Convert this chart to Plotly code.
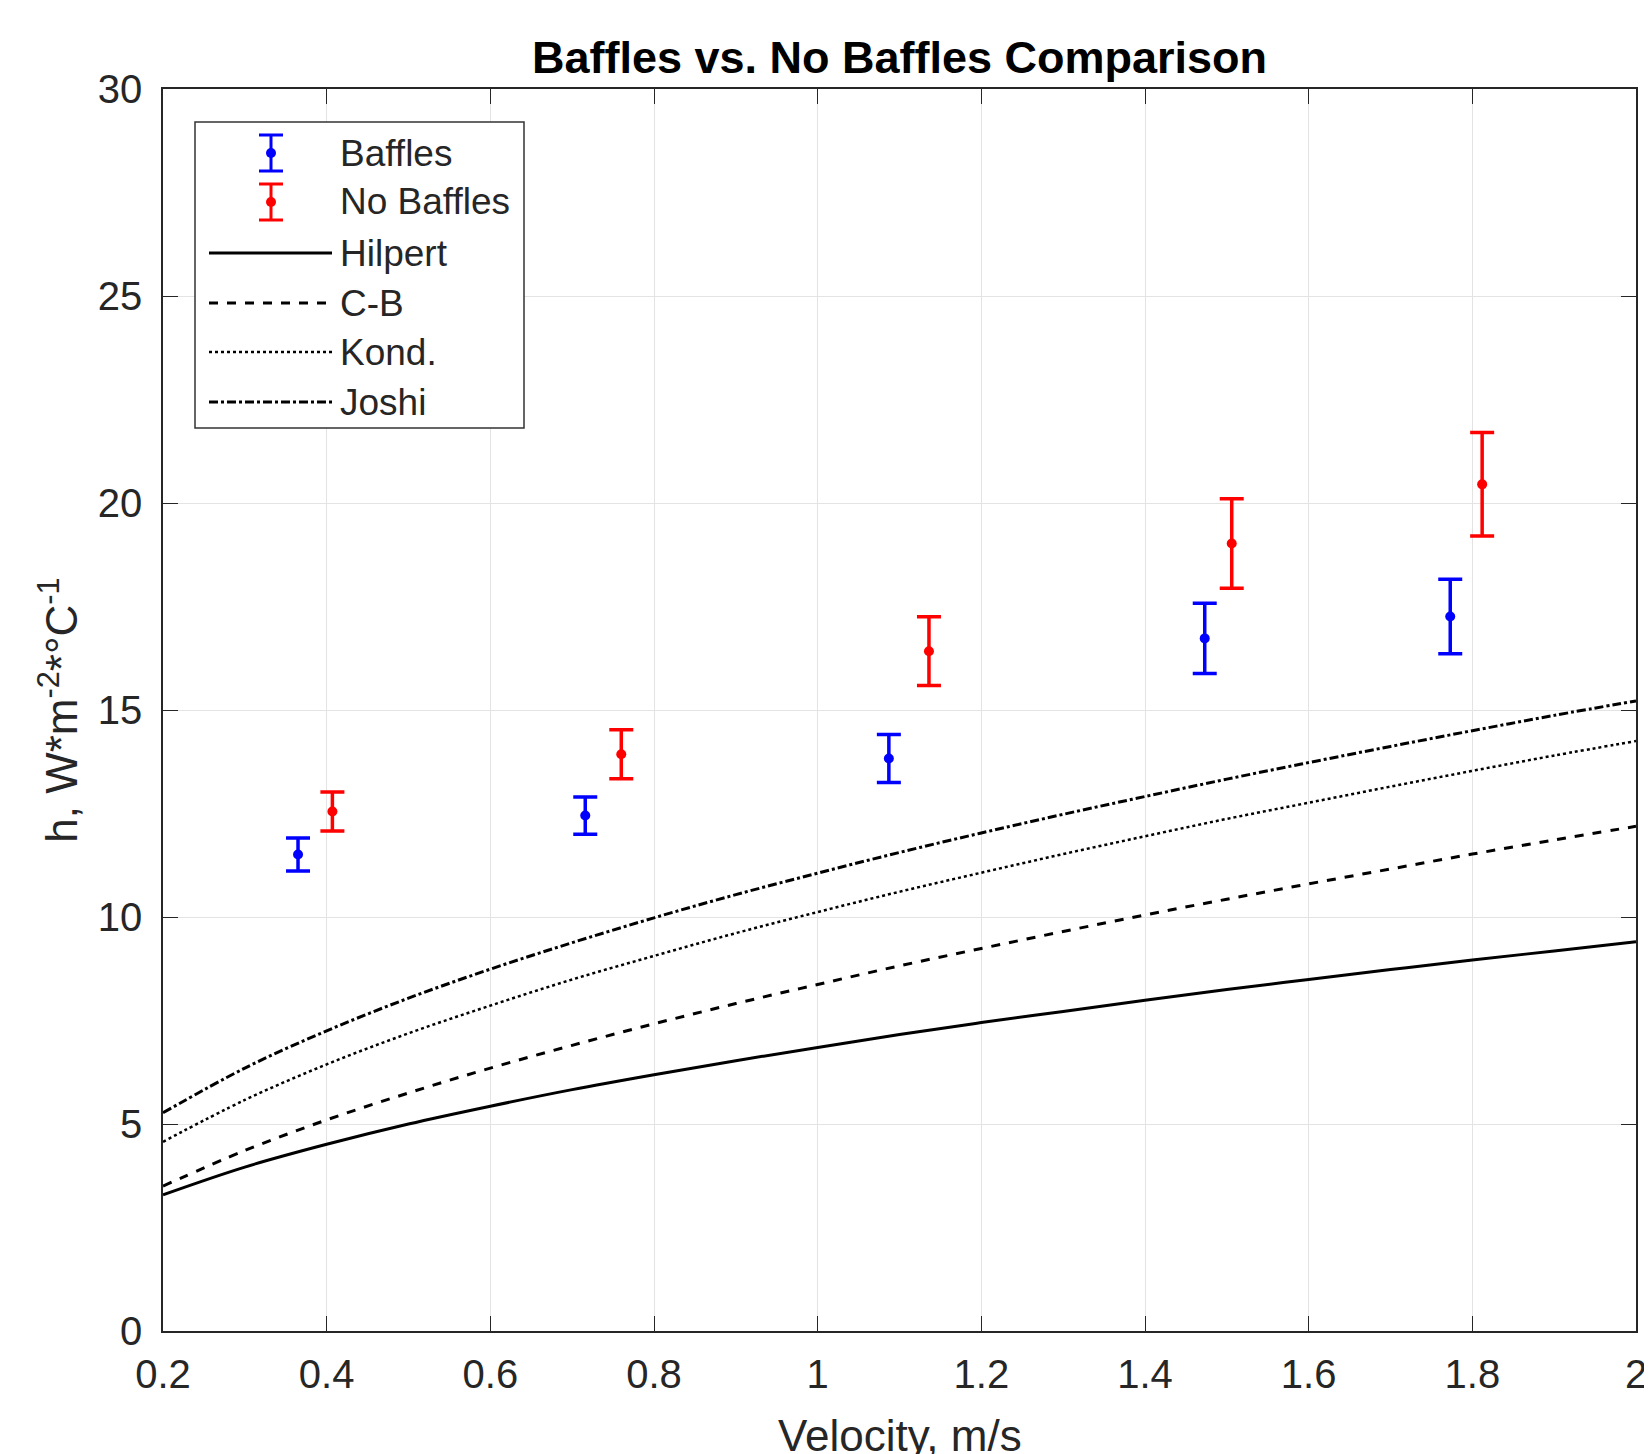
import plotly.graph_objects as go

# ---- data ----
baffles_v = [0.365, 0.716, 1.087, 1.473, 1.773]
baffles_h = [11.51, 12.45, 13.83, 16.73, 17.26]
baffles_err = [0.40, 0.45, 0.58, 0.85, 0.90]

nobaffles_v = [0.407, 0.760, 1.136, 1.506, 1.812]
nobaffles_h = [12.55, 13.93, 16.42, 19.02, 20.45]
nobaffles_err = [0.47, 0.59, 0.83, 1.08, 1.25]

curve_v = [0.2, 0.3, 0.4, 0.5, 0.6, 0.7, 0.8, 0.9, 1.0, 1.1,
           1.2, 1.3, 1.4, 1.5, 1.6, 1.7, 1.8, 1.9, 2.0]
hilpert = [3.29, 3.96, 4.51, 5.00, 5.43, 5.83, 6.19, 6.53, 6.85, 7.16,
           7.45, 7.72, 7.99, 8.25, 8.49, 8.73, 8.96, 9.18, 9.40]
cb = [3.50, 4.36, 5.10, 5.75, 6.35, 6.90, 7.42, 7.91, 8.37, 8.82,
      9.24, 9.65, 10.05, 10.43, 10.80, 11.16, 11.52, 11.86, 12.19]
kond = [4.57, 5.58, 6.44, 7.19, 7.86, 8.49, 9.06, 9.61, 10.12, 10.61,
        11.07, 11.52, 11.95, 12.37, 12.76, 13.15, 13.53, 13.90, 14.25]
joshi = [5.27, 6.35, 7.25, 8.04, 8.74, 9.38, 9.98, 10.54, 11.06, 11.56,
         12.03, 12.48, 12.91, 13.33, 13.73, 14.12, 14.50, 14.87, 15.22]

point_series = [("Baffles", "#0000FF"), ("No Baffles", "#FF0000")]
line_series = [("Hilpert", "solid", 3), ("C-B", "dash", 3),
               ("Kond.", "dot", 2.5), ("Joshi", "dashdot", 3)]
x_title = "Velocity, m/s"

FONT = "Liberation Sans, Arial, Helvetica, sans-serif"
AX = "#262626"
OFF = 8                      # default body margin of the html page
W, H = 1652 - OFF, 1454 - OFF
# plot area in page pixels: x 163..1636, y 89..1331
L, T = 163 - OFF, 89 - OFF
R = W - (1636 - OFF)
B = H - (1331 - OFF)
PW, PH = W - L - R, H - T - B


def px(x):   # page pixel x -> paper
    return (x - OFF - L) / PW


def py(y):   # page pixel y -> paper
    return (H - B - (y - OFF)) / PH


fig = go.Figure()

for (name, col), v, h, e in zip(point_series, [baffles_v, nobaffles_v],
                                [baffles_h, nobaffles_h],
                                [baffles_err, nobaffles_err]):
    fig.add_trace(go.Scatter(
        x=v, y=h, mode="markers", name=name, showlegend=False,
        marker=dict(color=col, size=10),
        error_y=dict(type="data", array=e, visible=True,
                     color=col, thickness=3.5, width=12)))

for (name, dash, w), ys in zip(line_series, [hilpert, cb, kond, joshi]):
    fig.add_trace(go.Scatter(
        x=curve_v, y=ys, mode="lines", name=name, showlegend=False,
        line=dict(color="black", width=w, dash=dash, shape="spline")))

axis_common = dict(
    showgrid=True, gridcolor="#e3e3e3", gridwidth=1,
    showline=True, linecolor=AX, linewidth=1.5, mirror="ticks",
    ticks="inside", ticklen=15, tickcolor=AX, tickwidth=1.2,
    tickfont=dict(family=FONT, size=40, color=AX),
    zeroline=False, automargin=False,
)

fig.update_xaxes(range=[0.2, 2], dtick=0.2, tick0=0.2,
                 ticklabelstandoff=7, **axis_common)
fig.update_yaxes(range=[0, 30], dtick=5, tick0=0,
                 ticklabelstandoff=11,
                 title=dict(text="h, W*m<sup>-2</sup>*°C<sup>-1</sup>", standoff=6,
                            font=dict(family=FONT, size=44, color=AX)),
                 **axis_common)

shapes = []
annotations = []

# x-axis title placed low, as in the reference
annotations.append(dict(text=x_title, xref="paper", yref="paper",
                        x=0.5, y=py(1435), xanchor="center", yanchor="middle",
                        showarrow=False, font=dict(family=FONT, size=44, color=AX)))

# ---- hand-built legend (long line samples + error-bar icons) ----
box = (195, 122, 524, 428)
shapes.append(dict(type="rect", xref="paper", yref="paper",
                   x0=px(box[0]), x1=px(box[2]), y0=py(box[3]), y1=py(box[1]),
                   fillcolor="white", line=dict(color="#333333", width=1.5),
                   layer="above"))
row_y = [153, 202, 253, 303, 352, 402]
text_x = 338
icon_x = 271
for (name, col), yc in zip(point_series, row_y[:2]):
    hh = 18
    shapes.append(dict(type="line", xref="paper", yref="paper",
                       x0=px(icon_x), x1=px(icon_x), y0=py(yc - hh), y1=py(yc + hh),
                       line=dict(color=col, width=3), layer="above"))
    for yy in (yc - hh, yc + hh):
        shapes.append(dict(type="line", xref="paper", yref="paper",
                           x0=px(icon_x - 12), x1=px(icon_x + 12), y0=py(yy), y1=py(yy),
                           line=dict(color=col, width=3), layer="above"))
    shapes.append(dict(type="circle", xref="paper", yref="paper",
                       x0=px(icon_x - 5), x1=px(icon_x + 5), y0=py(yc - 5), y1=py(yc + 5),
                       fillcolor=col, line=dict(color=col, width=0), layer="above"))
    annotations.append(dict(text=name, xref="paper", yref="paper",
                            x=px(text_x), y=py(yc), xanchor="left", yanchor="middle",
                            showarrow=False, font=dict(family=FONT, size=37, color=AX)))
for (name, dash, w), yc in zip(line_series, row_y[2:]):
    shapes.append(dict(type="line", xref="paper", yref="paper",
                       x0=px(209), x1=px(332), y0=py(yc), y1=py(yc),
                       line=dict(color="black", width=w, dash=dash), layer="above"))
    annotations.append(dict(text=name, xref="paper", yref="paper",
                            x=px(text_x), y=py(yc), xanchor="left", yanchor="middle",
                            showarrow=False, font=dict(family=FONT, size=37, color=AX)))

fig.update_layout(
    width=W, height=H,
    margin=dict(l=L, r=R, t=T, b=B),
    paper_bgcolor="white", plot_bgcolor="white",
    title=dict(text="<b>Baffles vs. No Baffles Comparison</b>",
               x=(L + W - R) / 2 / W, xanchor="center",
               y=1 - (57 - OFF) / H, yanchor="middle", yref="container",
               font=dict(family=FONT, size=45, color="black")),
    shapes=shapes, annotations=annotations,
    showlegend=False,
)

fig.write_html("out.html")
